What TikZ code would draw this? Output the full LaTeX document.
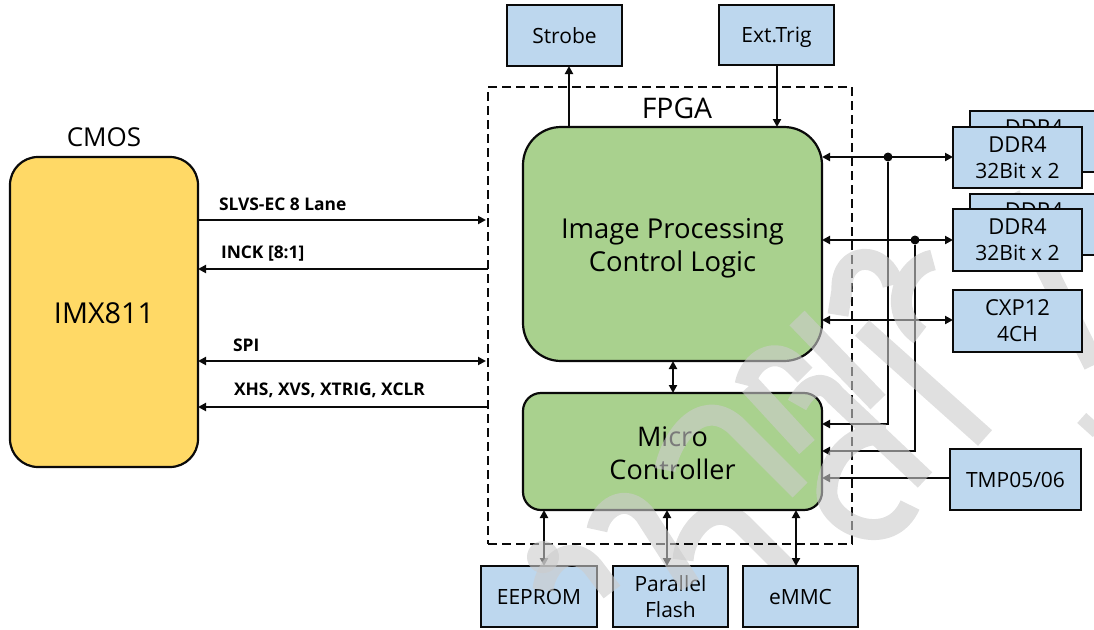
\documentclass[tikz,border=0pt]{standalone}
\usepackage{fontspec}
\setmainfont{Open Sans}
\usetikzlibrary{arrows.meta}
\definecolor{boxblue}{HTML}{BDD7EE}
\definecolor{fpgagreen}{HTML}{A9D18E}
\definecolor{cmosyellow}{HTML}{FFD966}
\definecolor{ink}{HTML}{0A0A0A}
\tikzset{
  x=1pt,y=-1pt,
  every node/.style={outer sep=0pt},
  bluebox/.style={draw=ink,line width=2pt,fill=boxblue,align=center,anchor=north west,inner sep=0pt,font=\fontsize{21}{26}\selectfont},
  greenbox/.style={draw=ink,line width=2.2pt,fill=fpgagreen,align=center,anchor=north west,inner sep=0pt},
  wire/.style={draw=ink,line width=2pt},
  tip/.style={wire,-{Triangle[length=8pt,width=8pt]}},
  tiptip/.style={wire,{Triangle[length=8pt,width=8pt]}-{Triangle[length=8pt,width=8pt]}},
  sig/.style={font=\fontsize{17.4}{20}\selectfont\bfseries,anchor=west,inner sep=0pt},
  junction/.style={circle,fill=ink,inner sep=0pt,minimum size=9pt},
  watermark/.style={draw=black!20,draw opacity=.6,line width=21pt,line cap=butt,line join=round},
}
\newcommand{\blockbox}[6]{\node[bluebox,minimum width=#4pt,minimum height=#5pt] (#1) at (#2,#3) {#6};}
\begin{document}
\begin{tikzpicture}
\useasboundingbox (0,0) rectangle (1094,629);
% watermark parts that lie under the blocks
\draw[watermark]
  (1010,195) -- (1094,365)
  (683,560) .. controls (685,530) and (715,495) .. (745,527) -- (830,612)
  ;
% CMOS
\node[anchor=center,inner sep=0pt,font=\fontsize{26}{30}\selectfont] (cmoslabel) at (104,137) {CMOS};
\node[draw=ink,line width=2.2pt,fill=cmosyellow,rounded corners=28pt,anchor=north west,minimum width=188pt,minimum height=310pt,inner sep=0pt,font=\fontsize{28.8}{34}\selectfont] (cmos) at (10,157) {\rule{0pt}{24pt}IMX811};
% FPGA outline
\node[draw=ink,line width=2pt,dash pattern=on 9pt off 5pt,anchor=north west,minimum width=364pt,minimum height=457pt,inner sep=0pt] (fpga) at (488,87) {};
\node[inner sep=0pt,font=\fontsize{28.4}{32}\selectfont] (fpgalabel) at (677,108) {FPGA};
% DDR4 cards behind the front ones
\blockbox{ddrAback}{970}{111}{129}{61}{}
\blockbox{ddrBback}{970}{194}{129}{61}{}
\node[inner sep=0pt,font=\fontsize{22}{28}\selectfont] (ddrAt) at (1034,128) {DDR4};
\node[inner sep=0pt,font=\fontsize{22}{28}\selectfont] (ddrBt) at (1034,211) {DDR4};
% main blocks
\node[greenbox,rounded corners=38pt,minimum width=299pt,minimum height=234pt,font=\fontsize{27.4}{33}\selectfont] (ip) at (523,127) {\rule{0pt}{29pt}Image Processing\\Control Logic};
\node[greenbox,rounded corners=18pt,minimum width=299pt,minimum height=117pt,font=\fontsize{27}{33}\selectfont] (mc) at (523,393) {\rule{0pt}{24pt}Micro\\Controller};
% blue blocks
\blockbox{strobe}{507}{5}{115}{61}{Strobe}
\blockbox{trig}{719}{5}{115}{60}{\rule{0pt}{21pt}Ext.Trig}
\blockbox{ddrA}{953}{127}{129}{61}{\fontsize{22}{28}\selectfont DDR4\\32Bit x 2}
\blockbox{ddrB}{953}{209}{129}{62}{\fontsize{22}{28}\selectfont DDR4\\32Bit x 2}
\blockbox{cxp}{953}{290}{129}{62}{\fontsize{22}{28}\selectfont CXP12\\4CH}
\blockbox{tmp}{950}{449}{131}{61}{TMP05/06}
\blockbox{eeprom}{481}{566}{116}{61}{EEPROM}
\blockbox{flash}{613}{566}{115}{61}{Parallel\\Flash}
\blockbox{emmc}{743}{566}{115}{61}{eMMC}
% signals
\coordinate (fpgaA) at (fpga.west |- 0,220);
\coordinate (fpgaB) at (fpga.west |- 0,269);
\coordinate (fpgaC) at (fpga.west |- 0,361);
\coordinate (fpgaD) at (fpga.west |- 0,407);
\draw[tip] (cmos.east |- fpgaA) -- ([xshift=-2pt]fpgaA);
\draw[tip] (fpgaB) -- (cmos.east |- fpgaB);
\draw[tiptip] (cmos.east |- fpgaC) -- ([xshift=-2pt]fpgaC);
\draw[tip] (fpgaD) -- (cmos.east |- fpgaD);
\node[sig] (l1) at (219,204) {SLVS-EC 8 Lane};
\node[sig] (l2) at (221,254) {INCK [8:1]};
\node[sig] (l3) at (233,345) {SPI};
\node[sig] (l4) at (234,390) {XHS, XVS, XTRIG, XCLR};
% top
\draw[tip] (569,127) -- (strobe.south -| 569,0);
\draw[tip] (trig.south -| 777,0) -- (ip.north -| 777,0);
% right
\node[junction] (j1) at (888,157) {};
\node[junction] (j2) at (915,240) {};
\draw[tiptip] (ip.east |- j1) -- (ddrA.west |- j1);
\draw[tiptip] (ip.east |- j2) -- (ddrB.west |- j2);
\draw[tiptip] (ip.east |- 0,320) -- (cxp.west |- 0,320);
\draw[tip] (j1) -- (888,424) -- (mc.east |- 0,424);
\draw[tip] (j2) -- (915,451) -- (mc.east |- 0,451);
\draw[tip] (tmp.west |- 0,478) -- (mc.east |- 0,478);
% middle and bottom
\draw[tiptip] (ip.south -| 673,0) -- (mc.north -| 673,0);
\draw[tiptip] (mc.south -| 544,0) -- (eeprom.north -| 544,0);
\draw[tiptip] (mc.south -| 667,0) -- (flash.north -| 667,0);
\draw[tiptip] (mc.south -| 796,0) -- (emmc.north -| 796,0);
% watermark
\draw[watermark]
  (797,318) -- (878,402)
  (862,328) -- (985,438)
  (745,385) .. controls (750,360) and (775,345) .. (795,365) -- (805,375)
  (750,385) -- (807,447)
  (797,405) .. controls (805,390) and (820,375) .. (835,395) -- (925,480)
  (665,470) .. controls (670,440) and (700,395) .. (735,425) -- (800,490)
  (885,435) .. controls (850,430) and (825,465) .. (827,495) .. controls (830,525) and (890,550) .. (910,505)
  (597,530) .. controls (600,510) and (625,490) .. (645,515) -- (690,585)
  (543,590) .. controls (545,565) and (570,540) .. (593,567) -- (612,592)
  (933,260) .. controls (905,265) and (885,310) .. (920,335)
  (893,285) .. controls (885,250) and (840,250) .. (842,290) -- (838,315)
  (1085,430) -- (1094,420);
\fill[black!20,fill opacity=.6] (543,557) circle (16pt);
\end{tikzpicture}
\end{document}
